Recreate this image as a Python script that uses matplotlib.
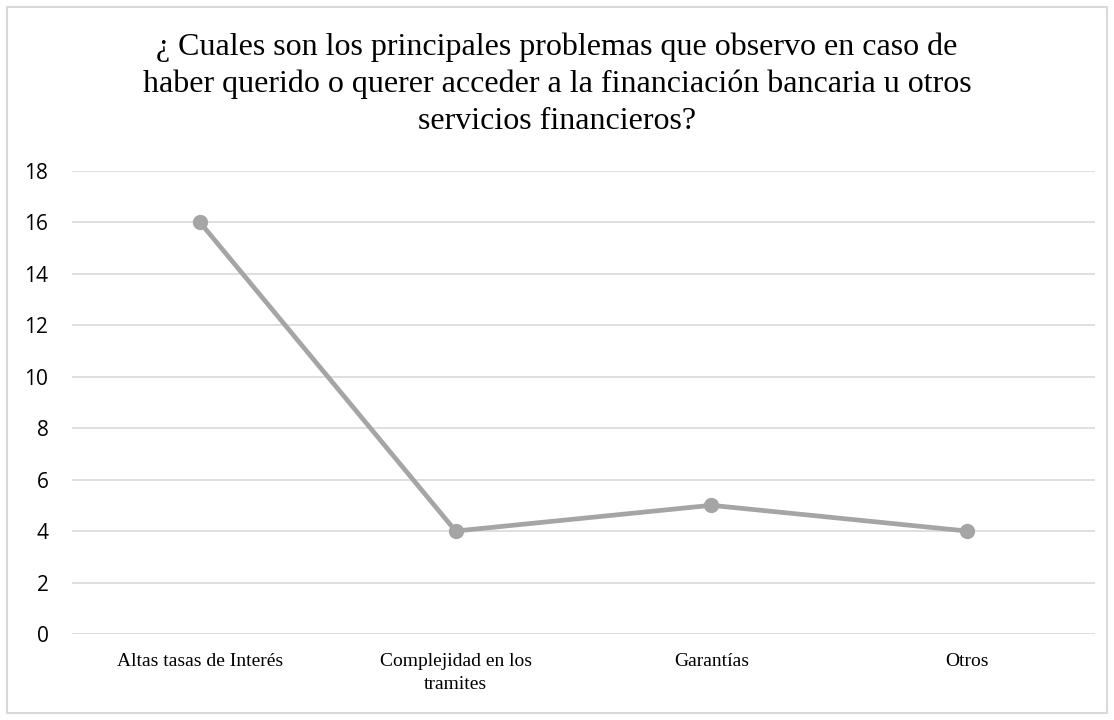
import matplotlib
matplotlib.use("Agg")
import matplotlib.pyplot as plt
from matplotlib.patches import Rectangle

# Datos
categorias = ["Altas tasas de Interés", "Complejidad en los\ntramites", "Garantías", "Otros"]
valores = [16, 4, 5, 4]
yticks = [0, 2, 4, 6, 8, 10, 12, 14, 16, 18]

titulo = ("¿ Cuales son los principales problemas que observo en caso de\n"
          "haber querido o querer acceder a la financiación bancaria u otros\n"
          "servicios financieros?")

fig = plt.figure(figsize=(11.14, 7.2), dpi=100)
ax = fig.add_axes([72/1114, 1 - 634/720, (1095-72)/1114, (634-170.7)/720])

# Marco del gráfico
fig.patches.append(Rectangle((7/1114, 7/720), 1100/1114, 706/720, transform=fig.transFigure,
                             fill=False, edgecolor="#D9D9D9", linewidth=1.5))

x = range(len(categorias))
ax.plot(x, valores, color="#A5A5A5", linewidth=3.4, marker="o", markersize=10,
        solid_capstyle="round", zorder=3)

ax.set_xlim(-0.5, len(categorias) - 0.5)
ax.set_ylim(0, 18)
ax.set_yticks(yticks)
ax.set_xticks(list(x))
ax.set_xticklabels(categorias, fontfamily="Liberation Serif", fontsize=14, linespacing=1.45)
ax.set_yticklabels([str(v) for v in yticks], fontfamily="Open Sans", fontsize=15)
ax.tick_params(axis="x", length=0, pad=14)
ax.tick_params(axis="y", length=0, pad=17)
ax.grid(axis="y", color="#D9D9D9", linewidth=1.2)
ax.set_axisbelow(True)
for s in ax.spines.values():
    s.set_visible(False)

fig.text(0.5, 1 - 33/720, titulo, ha="center", va="top", fontfamily="Liberation Serif",
         fontsize=23, linespacing=1.33)

fig.savefig("out.png", dpi=100)
